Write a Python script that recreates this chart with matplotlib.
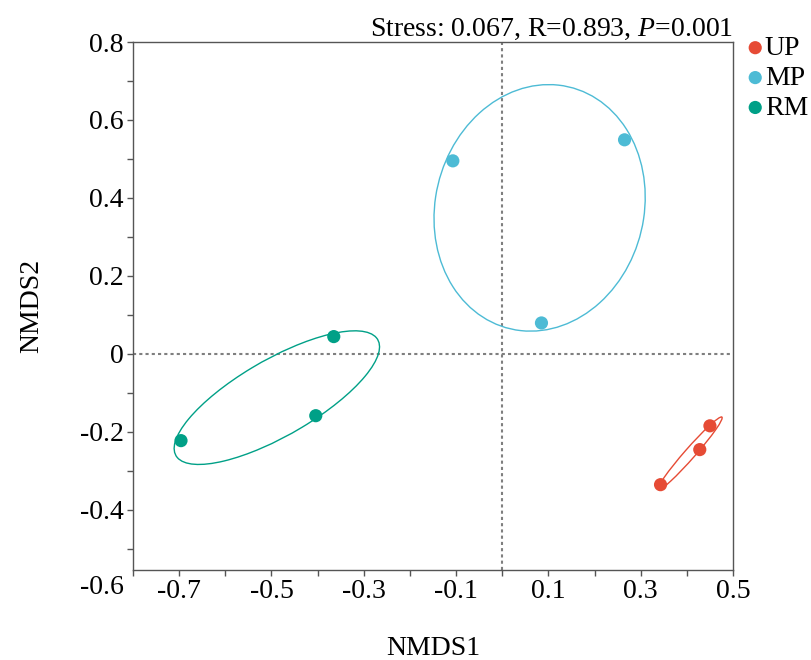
import numpy as np
import matplotlib
matplotlib.use('Agg')
from matplotlib import pyplot as plt
from matplotlib.patches import Ellipse
from matplotlib.ticker import MultipleLocator

######################################################################
# Data (NMDS site scores)
######################################################################

groups = ['UP', 'MP', 'RM']
colors = ['#E64B35', '#4DBBD5', '#00A087']

up_x = [0.450, 0.428, 0.343]
up_y = [-0.185, -0.246, -0.336]
mp_x = [-0.107, 0.265, 0.085]
mp_y = [0.495, 0.549, 0.079]
rm_x = [-0.365, -0.404, -0.696]
rm_y = [0.044, -0.159, -0.223]

xticks = [-0.7, -0.5, -0.3, -0.1, 0.1, 0.3, 0.5]
yticks = [-0.4, -0.2, 0.0, 0.2, 0.4, 0.6, 0.8]
title = 'Stress: 0.067, R=0.893, $\\mathit{P}$=0.001'

ellipse_scale = 1.23

######################################################################
# Plot
######################################################################

def cov_ellipse(x, y, scale, color):
    pts = np.column_stack([x, y])
    center = pts.mean(axis=0)
    cov = np.cov(pts, rowvar=False)
    vals, vecs = np.linalg.eigh(cov)
    order = vals.argsort()[::-1]
    vals, vecs = vals[order], vecs[:, order]
    angle = np.degrees(np.arctan2(vecs[1, 0], vecs[0, 0]))
    w, h = 2 * scale * np.sqrt(np.maximum(vals, 0))
    return Ellipse(center, w, h, angle=angle, fill=False, edgecolor=color, linewidth=1.0)


plt.rcParams['font.family'] = ['Liberation Serif', 'DejaVu Serif']
plt.rcParams['mathtext.fontset'] = 'custom'
plt.rcParams['mathtext.it'] = 'Liberation Serif:italic'
plt.rcParams['mathtext.rm'] = 'Liberation Serif'

fs = 20

fig = plt.figure(figsize=(8.12, 6.60), dpi=100)
ax = fig.add_axes([133 / 812, 90 / 660, 600 / 812, 528 / 660])

ax.axhline(0, color='#7f7f7f', lw=1.5, ls=(0, (1.5, 1.5)), zorder=1)
ax.axvline(0, color='#7f7f7f', lw=1.5, ls=(0, (1.5, 1.5)), zorder=1)

data = [(up_x, up_y), (mp_x, mp_y), (rm_x, rm_y)]
for name, col, (xs, ys) in zip(groups, colors, data):
    ax.add_patch(cov_ellipse(xs, ys, ellipse_scale, col))
    ax.scatter(xs, ys, s=90, color=col, edgecolors='none', label=name, zorder=3)

ax.set_xlim(-0.8, 0.5)
ax.set_ylim(-0.555, 0.8)
ax.set_xticks(xticks)
ax.set_xticklabels(['%g' % v for v in xticks])
ax.set_yticks(yticks)
ax.set_yticklabels(['%g' % v for v in yticks])
ax.xaxis.set_minor_locator(MultipleLocator(0.1))
ax.yaxis.set_minor_locator(MultipleLocator(0.1))
ax.tick_params(which='both', direction='out', length=4.5, width=1, color='#555555',
               labelsize=fs, pad=2, top=False, right=False)

# -0.6 label sits below the frame in the original
ax.annotate('-0.6', xy=(0, -0.6), xycoords=('axes fraction', 'data'),
            xytext=(-6.5, 0), textcoords='offset points', ha='right', va='center',
            fontsize=fs, annotation_clip=False)

for sp in ax.spines.values():
    sp.set_color('#555555')
    sp.set_linewidth(1.0)

ax.set_xlabel('NMDS1', fontsize=fs, labelpad=23)
ax.set_ylabel('NMDS2', fontsize=fs, labelpad=26)
ax.set_title(title, loc='right', fontsize=fs, pad=4)

ax.legend(loc='upper left', bbox_to_anchor=(1.0, 1.028), frameon=False, fontsize=fs,
          handletextpad=-0.15, labelspacing=0.16, borderaxespad=0.2, borderpad=0.1,
          handlelength=1.0)

fig.savefig('out.png', dpi=100)
